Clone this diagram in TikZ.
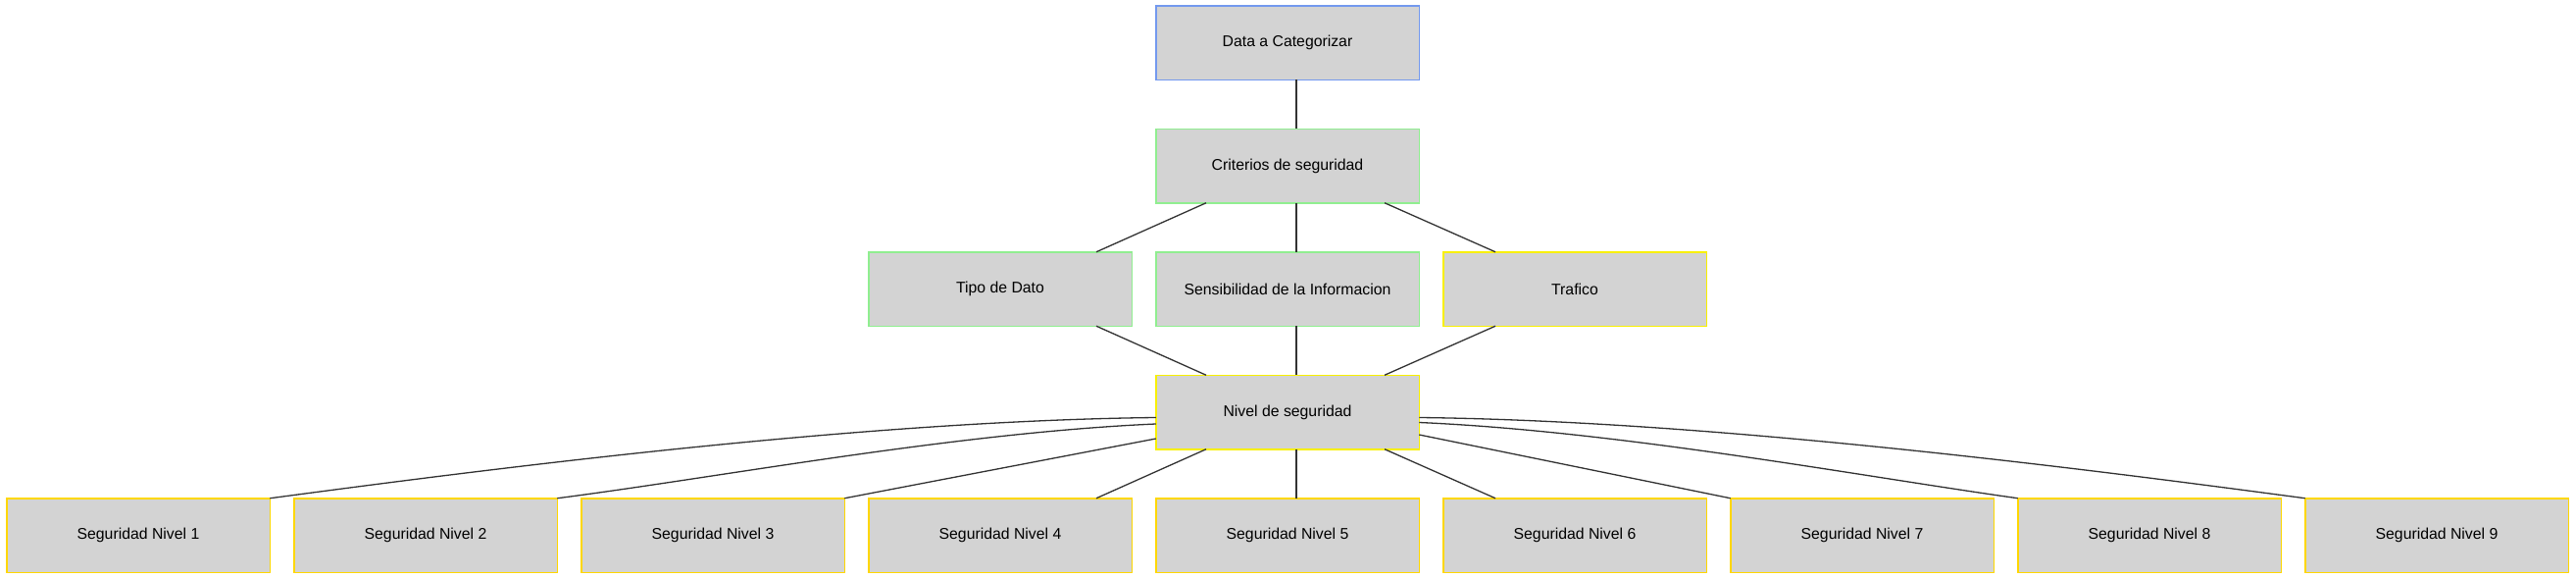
\documentclass[tikz,border=0pt]{standalone}
\usepackage{fontspec}
\setmainfont{Liberation Sans}
\definecolor{boxfill}{HTML}{D3D3D3}
\definecolor{blueb}{HTML}{7399EE}
\definecolor{greenb}{HTML}{90EE90}
\definecolor{yellowb}{HTML}{F8F000}
\definecolor{goldb}{HTML}{FFD700}
\definecolor{edgec}{HTML}{333333}
\tikzset{
  box/.style={rectangle, fill=boxfill, line width=1.5pt, minimum width=268.5pt,
    minimum height=75.5pt, inner sep=0pt, outer sep=0pt,
    font=\fontsize{15.8pt}{19pt}\selectfont},
  bluebox/.style={box, draw=blueb},
  greenbox/.style={box, draw=greenb},
  yellowbox/.style={box, draw=yellowb},
  goldbox/.style={box, draw=goldb},
  edge/.style={draw=edgec, line width=1.3pt}
}
\begin{document}
\begin{tikzpicture}[x=1pt,y=-1pt]
\useasboundingbox (0,0) rectangle (2627,589);
\node[bluebox]   (data) at (1313,43.5)  {Data a Categorizar};
\node[greenbox]  (crit) at (1313,169)   {Criterios de seguridad};
\node[greenbox]  (tipo) at (1020,294.5) {Tipo de Dato};
\node[greenbox]  (sens) at (1313,294.5) {Sensibilidad de la Informacion};
\node[yellowbox] (traf) at (1606,294.5) {Trafico};
\node[yellowbox] (niv)  at (1313,420)   {Nivel de seguridad};
\node[goldbox] (n1) at (141,545.5)  {Seguridad Nivel 1};
\node[goldbox] (n2) at (434,545.5)  {Seguridad Nivel 2};
\node[goldbox] (n3) at (727,545.5)  {Seguridad Nivel 3};
\node[goldbox] (n4) at (1020,545.5) {Seguridad Nivel 4};
\node[goldbox] (n5) at (1313,545.5) {Seguridad Nivel 5};
\node[goldbox] (n6) at (1606,545.5) {Seguridad Nivel 6};
\node[goldbox] (n7) at (1899,545.5) {Seguridad Nivel 7};
\node[goldbox] (n8) at (2192,545.5) {Seguridad Nivel 8};
\node[goldbox] (n9) at (2485,545.5) {Seguridad Nivel 9};

\path[edge] ([xshift=9pt]data.south) -- ([xshift=9pt]crit.north);
\path[edge] ([xshift=-83pt]crit.south) -- ([xshift=98pt]tipo.north);
\path[edge] ([xshift=9pt]crit.south) -- ([xshift=9pt]sens.north);
\path[edge] ([xshift=99pt]crit.south) -- ([xshift=-81pt]traf.north);
\path[edge] ([xshift=98pt]tipo.south) -- ([xshift=-83pt]niv.north);
\path[edge] ([xshift=9pt]sens.south) -- ([xshift=9pt]niv.north);
\path[edge] ([xshift=-81pt]traf.south) -- ([xshift=99pt]niv.north);

\path[edge] ([yshift=-5.5pt]niv.west) .. controls +(-300,3.3) and +(225,-30) .. (n1.north east);
\path[edge] ([yshift=-12pt]niv.west) .. controls +(-204,9) and +(170,-22) .. (n2.north east);
\path[edge] ([yshift=-27pt]niv.west) -- (n3.north east);
\path[edge] ([xshift=-83pt]niv.south) -- ([xshift=98pt]n4.north);
\path[edge] ([xshift=9pt]niv.south) -- ([xshift=9pt]n5.north);
\path[edge] ([xshift=99pt]niv.south) -- ([xshift=-81pt]n6.north);
\path[edge] ([yshift=-23pt]niv.east) -- (n7.north west);
\path[edge] ([yshift=-10.5pt]niv.east) .. controls +(204,9) and +(-170,-24) .. (n8.north west);
\path[edge] ([yshift=-5.5pt]niv.east) .. controls +(300,3.3) and +(-225,-30) .. (n9.north west);
\end{tikzpicture}
\end{document}
